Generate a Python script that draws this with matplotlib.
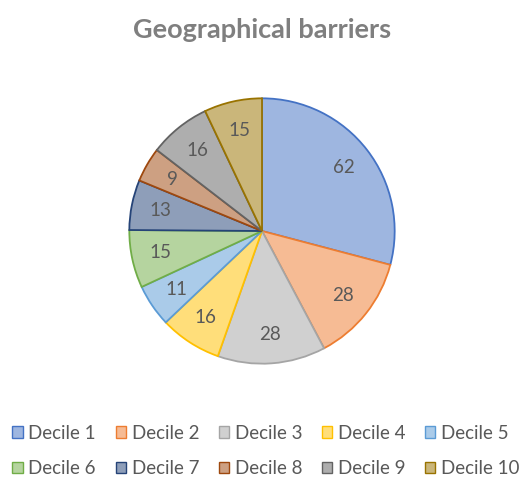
import matplotlib.pyplot as plt
from matplotlib.patches import Patch
from matplotlib.colors import to_rgb

title = 'Geographical barriers'
labels = ['Decile 1', 'Decile 2', 'Decile 3', 'Decile 4', 'Decile 5',
          'Decile 6', 'Decile 7', 'Decile 8', 'Decile 9', 'Decile 10']
values = [62, 28, 28, 16, 11, 15, 13, 9, 16, 15]

edge_colors = ['#4472C4', '#ED7D31', '#A5A5A5', '#FFC000', '#5B9BD5',
               '#70AD47', '#264478', '#9E480E', '#636363', '#997300']


def lighten(c, a=0.52):
    r, g, b = to_rgb(c)
    return (a * r + 1 - a, a * g + 1 - a, a * b + 1 - a)


fill_colors = [lighten(c) for c in edge_colors]
text_col = '#595959'
plt.rcParams['font.family'] = ['Lato', 'DejaVu Sans']

fig = plt.figure(figsize=(5.23, 4.79), dpi=100, facecolor='white')
ax = fig.add_axes([128 / 523, (479 - 231 - 134) / 479, 268 / 523, 268 / 479])

wedges, texts, autotexts = ax.pie(
    values, startangle=90, counterclock=False, colors=fill_colors,
    autopct=lambda p: '%d' % round(p * sum(values) / 100.0),
    pctdistance=0.78,
    wedgeprops=dict(linewidth=1.3),
    textprops=dict(color=text_col, fontsize=13.5))
for w, ec in zip(wedges, edge_colors):
    w.set_edgecolor(ec)
ax.set_xlim(-1.01, 1.01)
ax.set_ylim(-1.01, 1.01)
ax.axis('off')

fig.text(262 / 523, 1 - 30 / 479, title, ha='center', va='center',
         fontsize=19.5, fontweight='bold', color='#7F7F7F')

# legend fills column-wise, so reorder to get row-wise like Excel
order = [0, 5, 1, 6, 2, 7, 3, 8, 4, 9]
handles = [Patch(facecolor=fill_colors[i], edgecolor=edge_colors[i], linewidth=1.0)
           for i in order]
leg = fig.legend(handles, [labels[i] for i in order], ncol=5, loc='center',
                 bbox_to_anchor=(266 / 523, 1 - 451 / 479),
                 frameon=False, fontsize=13.5, handlelength=0.55, handleheight=0.55,
                 handletextpad=0.3, columnspacing=1.05, labelspacing=1.0,
                 labelcolor=text_col)

fig.savefig('out.png', dpi=100, facecolor='white')
